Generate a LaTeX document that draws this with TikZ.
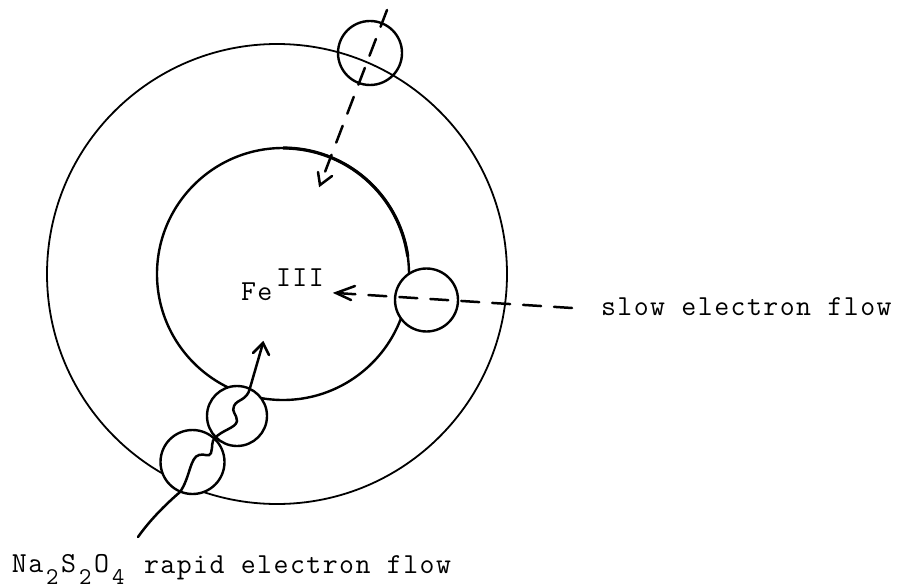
\documentclass[tikz,border=0pt]{standalone}
\usepackage{fontspec}
\setmonofont[LetterSpace=5]{Latin Modern Mono}
\begin{document}
\begin{tikzpicture}[x=1pt,y=-1pt,
  lbl/.style={inner sep=0pt,outer sep=0pt,font=\ttfamily\fontsize{29}{30}\selectfont,text=black,anchor=base west},
  sub/.style={inner sep=0pt,outer sep=0pt,font=\ttfamily\fontsize{24}{24}\selectfont,text=black,anchor=base west},
  bigc/.style={draw=black,circle,inner sep=0pt,line width=1.8pt,minimum size=#1},
  bubble/.style={draw=black,fill=white,circle,inner sep=0pt,line width=2.4pt,minimum size=#1},
  flow/.style={draw=black,line width=2.5pt,line cap=round},
  dflow/.style={flow,dash pattern=on 18pt off 13pt}]
\useasboundingbox (0,0) rectangle (904,588);
\node[bigc=460pt] (outer) at (277,274) {};
\node[bigc=252pt,line width=2.4pt] (inner) at (283,274) {};
\draw[line width=3.2pt] ([yshift=-1.2pt]inner.north) arc[start angle=-90,end angle=-8,radius=126];
\node[bubble=64pt,fill=none] (top) at (370,53) {};
\node[bubble=63pt] (right) at (426.5,300) {};
\node[bubble=60pt] (low) at (237,416) {};
\node[bubble=64pt] (lowest) at (192.5,462) {};
% arrows
\coordinate (a1s) at (387,10); \coordinate (a1t) at (320,185);
\draw[dflow] (a1s) -- (a1t);
\draw[flow] (318,172) -- (a1t) -- (332,176);
\coordinate (a2s) at (572,308); \coordinate (a2t) at (336,293);
\draw[dflow] (a2s) -- (a2t);
\draw[flow] (355,286) -- (a2t) -- (351,300);
\coordinate (a3s) at (138,537); \coordinate (a3t) at (263,343);
\draw[flow] (a3s) .. controls (150,520) and (165,505) .. (180,492)
  .. controls (190,478) and (190,457) .. (199,455)
  .. controls (204,453) and (209,458) .. (211,453)
  .. controls (213,447) and (211,441) .. (215,438)
  .. controls (222,430) and (236,428) .. (237,421)
  .. controls (237,414) and (231,412) .. (234,406)
  .. controls (237,399) and (247,401) .. (250,388) -- (a3t);
\draw[flow] (253,353) -- (a3t) -- (269,355);
% labels
\node[lbl] (fe) at (241,300) {Fe};
\node[lbl] (iii) at (276,286) {III};
\node[lbl] (slow) at (601,315) {slow electron flow};
\node[lbl] (na) at (12,572) {Na};
\node[sub] (s2a) at (46,584) {2};
\node[lbl] (s) at (61,572) {S};
\node[sub] (s2b) at (79,584) {2};
\node[lbl] (o) at (94,572) {O};
\node[sub] (s4) at (112,584) {4};
\node[lbl] (rapid) at (144,573) {rapid electron flow};
\end{tikzpicture}
\end{document}
